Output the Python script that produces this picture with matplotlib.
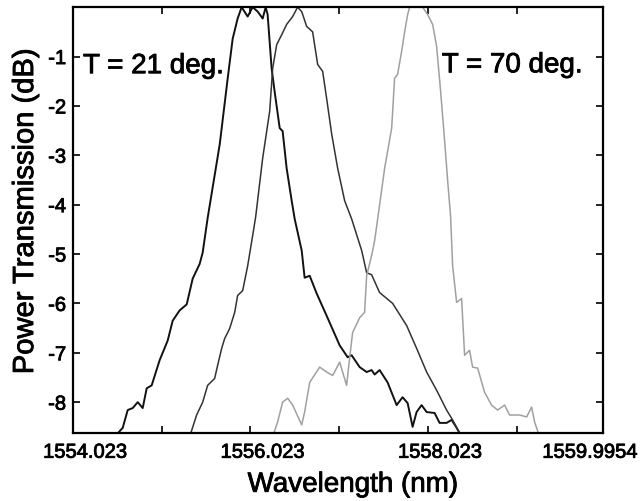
import numpy as np
import matplotlib
matplotlib.use("Agg")
import matplotlib.pyplot as plt
import matplotlib.patheffects as pe
from matplotlib.transforms import ScaledTranslation

plt.rcParams['font.family'] = ['Liberation Sans', 'DejaVu Sans']

# ---- data (wavelength nm, transmission dB) ----
wl_21 = [1554.493, 1554.584, 1554.640, 1554.696, 1554.753, 1554.809, 1554.854,
         1554.910, 1555.000, 1555.091, 1555.147, 1555.226, 1555.305, 1555.372,
         1555.451, 1555.485, 1555.541, 1555.677, 1555.767, 1555.823, 1555.879,
         1555.924, 1555.992, 1556.048, 1556.105, 1556.161, 1556.195, 1556.217,
         1556.262, 1556.296, 1556.353, 1556.386, 1556.431, 1556.488, 1556.522,
         1556.601, 1556.634, 1556.691, 1556.770, 1556.882, 1557.029, 1557.119,
         1557.164, 1557.254, 1557.333, 1557.389, 1557.423, 1557.479, 1557.569,
         1557.671, 1557.738, 1557.795, 1557.851, 1557.896, 1557.952, 1558.009,
         1558.099, 1558.155, 1558.234, 1558.291, 1558.347, 1558.403]
db_21 = [-8.70, -8.52, -8.16, -8.12, -8.00, -8.12, -7.72,
         -7.66, -7.15, -6.75, -6.35, -6.14, -6.02, -5.50,
         -5.20, -4.97, -4.27, -2.78, -1.44, -0.64, -0.23,
         0.00, -0.19, 0.00, -0.09, -0.23, 0.00, -0.15,
         -1.24, -1.71, -2.45, -2.51, -3.26, -3.92, -4.29,
         -4.93, -5.48, -5.44, -5.80, -6.25, -6.85, -7.09,
         -7.05, -7.29, -7.39, -7.35, -7.44, -7.35, -7.60,
         -8.06, -7.90, -8.02, -8.50, -8.20, -8.06, -8.20,
         -8.22, -8.42, -8.42, -8.36, -8.52, -8.70]

wl_mid = [1555.338, 1555.417, 1555.485, 1555.541, 1555.620, 1555.654, 1555.699,
          1555.733, 1555.789, 1555.846, 1555.879, 1555.936, 1555.992, 1556.048,
          1556.082, 1556.161, 1556.240, 1556.274, 1556.319, 1556.375, 1556.431,
          1556.499, 1556.555, 1556.601, 1556.657, 1556.724, 1556.781, 1556.837,
          1556.882, 1556.939, 1557.006, 1557.085, 1557.164, 1557.277, 1557.333,
          1557.389, 1557.479, 1557.626, 1557.784, 1557.896, 1558.009, 1558.122,
          1558.234, 1558.302, 1558.403]
db_mid = [-8.70, -8.26, -8.00, -7.66, -7.52, -7.25, -6.91,
          -6.71, -6.51, -6.18, -5.84, -5.74, -5.24, -4.63,
          -4.25, -3.06, -2.11, -1.24, -0.76, -0.56, -0.35,
          -0.19, 0.00, -0.09, -0.39, -0.50, -1.16, -1.30,
          -1.85, -2.57, -3.26, -3.92, -4.29, -4.93, -5.38,
          -5.42, -5.78, -6.00, -6.45, -6.91, -7.39, -7.76,
          -8.16, -8.36, -8.70]

wl_70 = [1556.274, 1556.330, 1556.386, 1556.443, 1556.499, 1556.601, 1556.634,
         1556.691, 1556.803, 1556.882, 1556.950, 1557.029, 1557.062, 1557.107,
         1557.141, 1557.175, 1557.254, 1557.310, 1557.333, 1557.389, 1557.423,
         1557.457, 1557.536, 1557.615, 1557.648, 1557.682, 1557.727, 1557.761,
         1557.795, 1557.817, 1557.964, 1558.020, 1558.077, 1558.122, 1558.167,
         1558.212, 1558.246, 1558.279, 1558.302, 1558.347, 1558.403, 1558.437,
         1558.493, 1558.527, 1558.584, 1558.662, 1558.741, 1558.809, 1558.888,
         1558.944, 1559.057, 1559.136, 1559.192, 1559.226, 1559.282]
db_70 = [-8.70, -8.40, -8.00, -7.92, -8.06, -8.46, -8.20,
         -7.60, -7.29, -7.39, -7.46, -7.19, -7.39, -7.66,
         -7.11, -6.59, -6.29, -6.18, -5.44, -5.03, -4.73,
         -4.29, -3.26, -2.45, -1.44, -1.36, -0.90, -0.50,
         -0.15, 0.00, 0.00, -0.15, -0.35, -0.80, -1.71,
         -2.71, -3.52, -4.23, -5.24, -5.98, -5.90, -7.05,
         -6.95, -7.29, -7.31, -7.80, -8.06, -8.16, -8.06,
         -8.26, -8.26, -8.30, -8.10, -8.40, -8.70]

x_ticks = [1554.023, 1555.023, 1556.023, 1557.023, 1558.023, 1559.023, 1559.9954]
x_labels = ['1554.023', '', '1556.023', '', '1558.023', '', '1559.9954']
y_ticks = [-8, -7, -6, -5, -4, -3, -2, -1]

fig = plt.figure(figsize=(6.4, 5.01), dpi=100)
ax = fig.add_axes([0.114, 0.1357, 0.828, 0.850])

ax.plot(wl_21, db_21, color='#111111', lw=1.4)
ax.plot(wl_mid, db_mid, color='#333333', lw=1.1)
ax.plot(wl_70, db_70, color='#a0a0a0', lw=1.1)

ax.set_xlim(1554.023, 1559.9954)
ax.set_ylim(-8.625, 0)
ax.set_xticks(x_ticks)
ax.set_xticklabels(x_labels)
ax.set_yticks(y_ticks)
ax.set_yticklabels([str(v) for v in y_ticks])

ax.tick_params(direction='in', length=5, width=1.2, top=True, right=True,
               labelsize=14.5, pad=5, colors='black')
ax.tick_params(axis='x', pad=7)
for s in ax.spines.values():
    s.set_linewidth(1.6)

# scanned look: text is a little heavier than plain regular
heavy = [pe.withStroke(linewidth=0.6, foreground='black')]

# MATLAB-ish label placement: first labels sit right of their ticks
offsets = [12, 0, 12, 0, 12, 0, -13]
for lab, dx in zip(ax.get_xticklabels(), offsets):
    lab.set_transform(lab.get_transform() + ScaledTranslation(dx / 100, 0, fig.dpi_scale_trans))
    lab.set_path_effects(heavy)
for lab in ax.get_yticklabels():
    lab.set_path_effects(heavy)

ax.set_xlabel('Wavelength (nm)', fontsize=20, path_effects=heavy)
ax.xaxis.set_label_coords(0.528, -0.138)
ax.xaxis.label.set_va('baseline')
ax.set_ylabel('Power Transmission (dB)', fontsize=21, path_effects=heavy)
ax.yaxis.set_label_coords(-0.064, 0.52)

ax.text(0.019, 0.845, 'T = 21 deg.', transform=ax.transAxes, fontsize=20,
        va='baseline', path_effects=heavy)
ax.text(0.696, 0.847, 'T = 70 deg.', transform=ax.transAxes, fontsize=20,
        va='baseline', path_effects=heavy)

fig.savefig('out.png', dpi=100)
